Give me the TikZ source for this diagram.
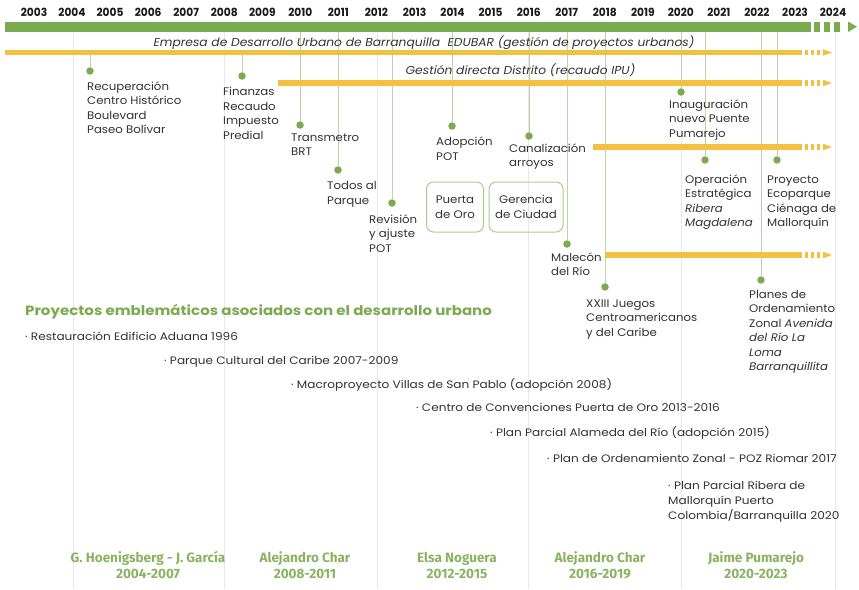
\documentclass[tikz,border=0pt]{standalone}
\usepackage{fontspec}
\setmainfont[FakeStretch=1.07]{Poppins}
\newfontfamily\widefont[FakeStretch=1.12]{Poppins}
\newfontfamily\yearfont[FakeStretch=0.95]{Poppins}
\newfontfamily\condfont{Fira Sans}
\usetikzlibrary{backgrounds}
\definecolor{barG}{HTML}{7BAB51}
\definecolor{barY}{HTML}{F3C142}
\definecolor{lineG}{HTML}{B8D6A0}
\definecolor{gridC}{HTML}{E8E8E8}
\definecolor{txt}{HTML}{333333}
\definecolor{boxG}{HTML}{A8CF8C}
\tikzset{
  evt/.style={anchor=base west, inner sep=0pt, align=left, text=txt, font=\fontsize{11}{14.5}\selectfont},
  dot/.style={circle, fill=barG, inner sep=0pt, minimum size=7.5pt},
  conn/.style={draw=lineG, line width=0.8pt},
  gridline/.style={draw=gridC, line width=0.8pt},
  yearlbl/.style={inner sep=0pt, text=black!90, font=\yearfont\bfseries\fontsize{11.2}{12}\selectfont},
  barlbl/.style={anchor=base, inner sep=0pt, text=txt, font=\itshape\fontsize{11.5}{13}\selectfont},
  projbox/.style={draw=boxG, line width=1pt, rounded corners=7pt, align=center, text=txt, inner sep=0pt, font=\fontsize{11}{14.5}\selectfont},
  listitem/.style={anchor=base west, inner sep=0pt, align=left, text=txt, font=\widefont\fontsize{10.8}{15}\selectfont},
  mayor/.style={inner sep=0pt, align=center, text=barG!90, font=\condfont\bfseries\fontsize{13.5}{16}\selectfont}
}
\begin{document}
\begin{tikzpicture}[x=1pt,y=-1pt]
\useasboundingbox (0,0) rectangle (859,589);
\coordinate (gbar) at (0,32);
\coordinate (ebar) at (0,55);

% year labels
\foreach \i [evaluate=\i as \yr using int(2003+\i)] in {0,...,21}
  \node[yearlbl] (y\i) at (34+38.05*\i,12) {\yr};

% dots
\node[dot] (dRec) at (90,71) {};
\node[dot] (dFin) at (242,76) {};
\node[dot] (dTra) at (300,125) {};
\node[dot] (dTod) at (338,170) {};
\node[dot] (dRev) at (392,203) {};
\node[dot] (dAdo) at (452,126) {};
\node[dot] (dCan) at (529,136) {};
\node[dot] (dIna) at (681,92) {};
\node[dot] (dOpe) at (705,160) {};
\node[dot] (dEco) at (777,160) {};
\node[dot] (dMal) at (567,244) {};
\node[dot] (dJue) at (605,287) {};
\node[dot] (dPla) at (761,280) {};

\begin{scope}[on background layer]
  \fill[white] (0,0) rectangle (859,589);
  \foreach \x in {73,224,377,528,681,835}
    \draw[gridline] (\x,32) -- (\x,589);
  \draw[conn] (dRec) -- (dRec |- ebar);
  \draw[conn] (dFin) -- (dFin |- ebar);
  \foreach \d in {dTra,dTod,dRev,dAdo,dCan,dIna,dOpe,dEco,dMal,dJue,dPla}
    \draw[conn] (\d) -- (\d |- gbar);
\end{scope}

% green main bar
\fill[barG] (5,21.5) rectangle (811,32);
\foreach \dx in {814,824,834}
  \fill[barG] (\dx,21.5) rectangle (\dx+6,32);
\fill[barG] (848,21.5) -- (857,26.75) -- (848,32) -- cycle;

% yellow bars
\foreach \xs/\yy in {5/52.5, 278/83, 593/147, 605/255} {
  \fill[barY] (\xs,\yy-2.75) rectangle (802,\yy+2.75);
  \foreach \dx in {805,811,817}
    \fill[barY] (\dx,\yy-2.75) rectangle (\dx+3,\yy+2.75);
  \fill[barY] (823,\yy-3.3) -- (832,\yy) -- (823,\yy+3.3) -- cycle;
}

% bar labels
\node[barlbl] (lEdu) at (424,46) {Empresa de Desarrollo Urbano de Barranquilla\ \ EDUBAR (gestión de proyectos urbanos)};
\node[barlbl] (lGes) at (520.5,74) {Gestión directa Distrito (recaudo IPU)};

% event labels (anchor = baseline of last line)
\node[evt] (tRec) at (87,133.5) {Recuperación\\Centro Histórico\\Boulevard\\Paseo Bolívar};
\node[evt] (tFin) at (223,139) {Finanzas\\Recaudo\\Impuesto\\Predial};
\node[evt] (tTra) at (291,155.5) {Transmetro\\BRT};
\node[evt] (tTod) at (327,204) {Todos al\\Parque};
\node[evt] (tRev) at (369,252) {Revisión\\y ajuste\\POT};
\node[evt] (tAdo) at (436,160) {Adopción\\POT};
\node[evt] (tCan) at (509,166.5) {Canalización\\arroyos};
\node[evt] (tIna) at (669,137) {Inauguración\\nuevo Puente\\Pumarejo};
\node[evt] (tOpe) at (685,226.5) {Operación\\Estratégica\\\textit{Ribera}\\\textit{Magdalena}};
\node[evt] (tEco) at (767,226.5) {Proyecto\\Ecoparque\\Ciénaga de\\Mallorquín};
\node[evt] (tMal) at (551,275.5) {Malecón\\del Río};
\node[evt] (tJue) at (586,336) {XXIII Juegos\\Centroamericanos\\y del Caribe};
\node[evt] (tPla) at (749,370.5) {Planes de\\Ordenamiento\\Zonal \textit{Avenida}\\\textit{del Río La}\\\textit{Loma}\\\textit{Barranquillita}};

% boxes
\node[projbox, minimum width=57pt, minimum height=50pt] (bPue) at (455,207) {Puerta\\de Oro};
\node[projbox, minimum width=74pt, minimum height=50pt] (bGer) at (526,207) {Gerencia\\de Ciudad};

% heading and list
\node[anchor=base west, inner sep=0pt, text=barG, font=\widefont\bfseries\fontsize{13.4}{15}\selectfont] (head) at (25,315.5) {Proyectos emblemáticos asociados con el desarrollo urbano};
\node[listitem] (p1) at (25,340) {· Restauración Edificio Aduana 1996};
\node[listitem] (p2) at (164,364.5) {· Parque Cultural del Caribe 2007-2009};
\node[listitem] (p3) at (291,388) {· Macroproyecto Villas de San Pablo (adopción 2008)};
\node[listitem] (p4) at (416,411) {· Centro de Convenciones Puerta de Oro 2013-2016};
\node[listitem] (p5) at (490,436.5) {· Plan Parcial Alameda del Río (adopción 2015)};
\node[listitem] (p6) at (547,462.5) {· Plan de Ordenamiento Zonal - POZ Riomar 2017};
\node[listitem] (p7) at (668,519.5) {· Plan Parcial Ribera de\\Mallorquín Puerto\\Colombia/Barranquilla 2020};

% mayors
\node[mayor] (m1) at (148,565) {G. Hoenigsberg - J. García\\2004-2007};
\node[mayor] (m2) at (305,565) {Alejandro Char\\2008-2011};
\node[mayor] (m3) at (457,565) {Elsa Noguera\\2012-2015};
\node[mayor] (m4) at (600,565) {Alejandro Char\\2016-2019};
\node[mayor] (m5) at (756,565) {Jaime Pumarejo\\2020-2023};
\end{tikzpicture}
\end{document}
